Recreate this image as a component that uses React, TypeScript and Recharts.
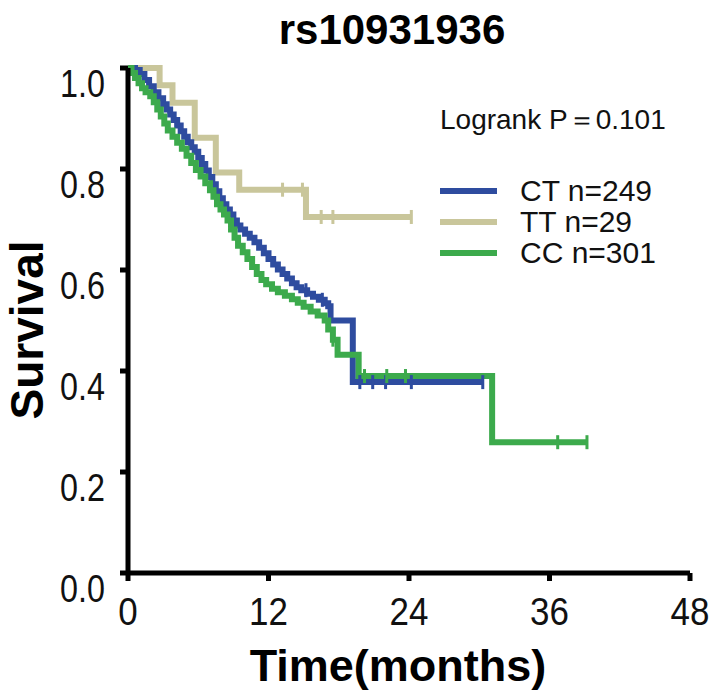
import React from "react";
import {
  ComposedChart,
  Line,
  Scatter,
  XAxis,
  YAxis,
  Legend,
  Label,
} from "recharts";

// Kaplan-Meier steps (months, survival after the step)
const ctTime = [0, 0.6, 1.0, 1.4, 1.8, 2.2, 2.6, 3.0, 3.3, 3.6, 3.9, 4.2, 4.5, 4.8, 5.1, 5.4, 5.7, 6.0, 6.3, 6.6, 6.9, 7.2, 7.5, 7.8, 8.1, 8.4, 8.7, 9.0, 9.3, 9.6, 10.0, 10.4, 10.8, 11.2, 11.6, 12.0, 12.4, 12.8, 13.2, 13.6, 14.0, 14.4, 14.8, 15.3, 15.8, 16.3, 16.8, 17.1, 17.3, 19.2, 30.3];
const ctSurv = [1, 0.996, 0.988, 0.976, 0.964, 0.952, 0.94, 0.928, 0.918, 0.908, 0.897, 0.886, 0.875, 0.864, 0.853, 0.843, 0.834, 0.822, 0.81, 0.797, 0.784, 0.77, 0.756, 0.742, 0.73, 0.72, 0.71, 0.698, 0.688, 0.68, 0.672, 0.664, 0.655, 0.644, 0.633, 0.622, 0.611, 0.601, 0.592, 0.583, 0.574, 0.566, 0.56, 0.553, 0.547, 0.541, 0.534, 0.528, 0.5, 0.378, 0.378];

const ccTime = [0, 0.3, 0.6, 0.9, 1.2, 1.5, 1.9, 2.2, 2.5, 2.8, 3.1, 3.4, 3.8, 4.2, 4.6, 5.0, 5.4, 5.8, 6.2, 6.6, 7.0, 7.3, 7.6, 7.9, 8.2, 8.5, 8.8, 9.1, 9.4, 9.8, 10.2, 10.6, 11.0, 11.4, 11.8, 12.3, 12.8, 13.4, 14.0, 14.5, 15.0, 15.6, 16.2, 16.8, 17.1, 17.5, 17.9, 19.7, 31.1, 39.2];
const ccSurv = [1, 0.99, 0.98, 0.97, 0.96, 0.952, 0.944, 0.932, 0.918, 0.904, 0.89, 0.876, 0.864, 0.852, 0.84, 0.826, 0.812, 0.798, 0.785, 0.772, 0.758, 0.745, 0.73, 0.72, 0.71, 0.698, 0.68, 0.664, 0.648, 0.635, 0.622, 0.606, 0.592, 0.58, 0.572, 0.563, 0.556, 0.549, 0.542, 0.535, 0.527, 0.518, 0.51, 0.5, 0.482, 0.462, 0.432, 0.39, 0.259, 0.259];

const ttTime = [0, 2.7, 3.8, 5.7, 7.5, 9.5, 15.2, 24.2];
const ttSurv = [1, 0.966, 0.931, 0.862, 0.793, 0.759, 0.705, 0.705];

// censoring times
const ctCensor = [15.2, 16.6, 19.8, 20.9, 22.0, 24.2, 30.3];
const ccCensor = [17.5, 20.2, 22.1, 23.7, 36.7, 39.2];
const ttCensor = [13.2, 14.9, 16.5, 17.5, 24.2];

const xTicks = [0, 12, 24, 36, 48];
const yTicks = [0, 0.2, 0.4, 0.6, 0.8, 1.0];

const series = [
  { name: "CT n=249", color: "#2e4c9f", time: ctTime, surv: ctSurv, censor: ctCensor },
  { name: "TT n=29", color: "#c9c69b", time: ttTime, surv: ttSurv, censor: ttCensor },
  { name: "CC n=301", color: "#3caa4c", time: ccTime, surv: ccSurv, censor: ccCensor },
];

const toPoints = (time: number[], surv: number[]) =>
  time.map((t, i) => ({ t, s: surv[i] }));

const survAt = (time: number[], surv: number[], t: number) => {
  let v = surv[0];
  time.forEach((tt, i) => {
    if (tt <= t) v = surv[i];
  });
  return v;
};

const censorPoints = (sr: (typeof series)[number]) =>
  sr.censor.map((t) => ({ t, s: survAt(sr.time, sr.surv, t) }));

const CensorMark = (color: string) => (props: any) => {
  const { cx, cy } = props;
  if (cx == null || cy == null) return null;
  return <rect x={cx - 1.5} y={cy - 7} width={3} height={14} fill={color} />;
};

const font = "'Liberation Sans', Arial, Helvetica, sans-serif";

// y tick labels in the reference are narrow and hang just below their tick
const YTick = (props: any) => {
  const { x, y, payload } = props;
  return (
    <text
      transform={`translate(${x},${y + 29}) scale(0.85,1)`}
      textAnchor="end"
      fontFamily={font}
      fontSize={38}
      fill="#111"
    >
      {Number(payload.value).toFixed(1)}
    </text>
  );
};

const XTick = (props: any) => {
  const { x, y, payload } = props;
  return (
    <text
      transform={`translate(${x},${y + 44}) scale(0.92,1)`}
      textAnchor="middle"
      fontFamily={font}
      fontSize={38}
      fill="#111"
    >
      {payload.value}
    </text>
  );
};

const drawOrder = [series[1], series[0], series[2]];

const LegendBox = () => (
  <div style={{ fontFamily: font, color: "#111", width: 270 }}>
    <div style={{ fontSize: 28, lineHeight: "30px", marginBottom: 40 }}>
      Logrank P＝0.101
    </div>
    {series.map((sr) => (
      <div
        key={sr.name}
        style={{ display: "flex", alignItems: "center", height: 31 }}
      >
        <div style={{ width: 57, height: 6, background: sr.color, marginRight: 23 }} />
        <span style={{ fontSize: 30, lineHeight: "31px" }}>{sr.name}</span>
      </div>
    ))}
  </div>
);

export default function App() {
  return (
    <div style={{ width: 714, height: 700, background: "#fff", position: "relative" }}>
      <style>{"body{margin:0;background:#fff}"}</style>
      <ComposedChart
        width={714}
        height={700}
        margin={{ top: 68, right: 24, bottom: 67, left: 0 }}
      >
        <XAxis
          type="number"
          dataKey="t"
          domain={[0, 48]}
          ticks={xTicks}
          height={60}
          axisLine={{ stroke: "#000", strokeWidth: 5 }}
          tickLine={{ stroke: "#000", strokeWidth: 5 }}
          tickSize={8}
          tickMargin={0}
          tick={<XTick />}
          allowDuplicatedCategory={false}
        >
          <Label
            content={() => (
              <text
                x={398}
                y={681}
                textAnchor="middle"
                fontFamily={font}
                fontWeight="bold"
                fontSize={45}
                fill="#000"
              >
                Time(months)
              </text>
            )}
          />
        </XAxis>
        <YAxis
          type="number"
          dataKey="s"
          domain={[0, 1]}
          ticks={yTicks}
          width={128}
          axisLine={{ stroke: "#000", strokeWidth: 5 }}
          tickLine={{ stroke: "#000", strokeWidth: 5 }}
          tickSize={8}
          tickMargin={15}
          tick={<YTick />}
        >
          <Label
            content={() => (
              <text
                x={43}
                y={330}
                transform="rotate(-90 43 330)"
                textAnchor="middle"
                fontFamily={font}
                fontWeight="bold"
                fontSize={46}
                fill="#000"
              >
                Survival
              </text>
            )}
          />
        </YAxis>
        {drawOrder.map((sr) => (
          <Line
            key={sr.name}
            data={toPoints(sr.time, sr.surv)}
            dataKey="s"
            type="stepAfter"
            stroke={sr.color}
            strokeWidth={6}
            dot={false}
            activeDot={false}
            isAnimationActive={false}
            legendType="none"
          />
        ))}
        {drawOrder.map((sr) => (
          <Scatter
            key={sr.name + "-c"}
            data={censorPoints(sr)}
            dataKey="s"
            shape={CensorMark(sr.color)}
            isAnimationActive={false}
            legendType="none"
          />
        ))}
        <Legend
          layout="horizontal"
          verticalAlign="middle"
          align="center"
          content={() => <LegendBox />}
          wrapperStyle={{ left: 440, top: 105, width: 270 }}
        />
      </ComposedChart>
      <div
        style={{
          position: "absolute",
          left: 0,
          top: 7,
          width: 784,
          textAlign: "center",
          fontFamily: font,
          fontWeight: "bold",
          fontSize: 42,
          lineHeight: "46px",
        }}
      >
        rs10931936
      </div>
    </div>
  );
}
